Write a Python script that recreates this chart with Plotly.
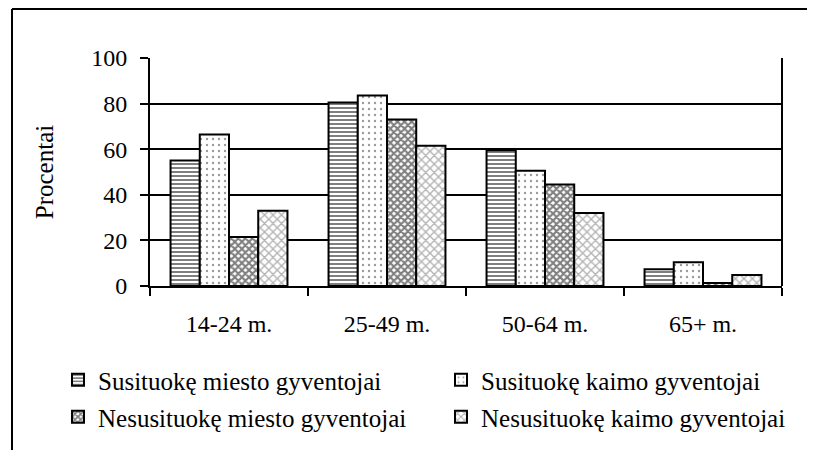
import plotly.graph_objects as go

categories = ["14-24 m.", "25-49 m.", "50-64 m.", "65+ m."]
series_names = [
    "Susituokę miesto gyventojai",
    "Susituokę kaimo gyventojai",
    "Nesusituokę miesto gyventojai",
    "Nesusituokę kaimo gyventojai",
]
married_urban = [55, 80.5, 59.5, 7.3]
married_rural = [66.5, 83.5, 50.5, 10.4]
unmarried_urban = [21.5, 73, 44.5, 1.3]
unmarried_rural = [33, 61.5, 32, 4.8]
y_ticks = [0, 20, 40, 60, 80, 100]

values = [married_urban, married_rural, unmarried_urban, unmarried_rural]
patterns = [
    dict(shape="-", fgcolor="black", bgcolor="white", size=4, solidity=0.5, fillmode="overlay"),
    dict(shape=".", fgcolor="#333333", bgcolor="white", size=6, solidity=0.12, fillmode="overlay"),
    dict(shape="x", fgcolor="black", bgcolor="white", size=5, solidity=0.65, fillmode="overlay"),
    dict(shape="x", fgcolor="#666666", bgcolor="white", size=6, solidity=0.4, fillmode="overlay"),
]
legends = ["legend", "legend2", "legend3", "legend4"]

FONT = "Times New Roman"

fig = go.Figure()
for name, vals, pat, lg in zip(series_names, values, patterns, legends):
    fig.add_trace(go.Bar(
        x=categories, y=vals, name=name,
        marker=dict(color="white", line=dict(color="black", width=2), pattern=pat),
        legend=lg,
    ))

OFF = 8  # page body offset
W, H = 815 - OFF, 450 - OFF
L, T = 150 - OFF, 58 - OFF
R = W - (782 - OFF)
B = H - (286 - OFF)
pw, ph = W - L - R, H - T - B

def px_x(p):
    return (p - OFF - L) / pw

def px_y(p):
    return (H - B - (p - OFF)) / ph

def leg(xp, yp):
    return dict(orientation="v", x=px_x(xp), y=px_y(yp), xanchor="left", yanchor="top",
                font=dict(family=FONT, size=25), bgcolor="rgba(0,0,0,0)",
                itemwidth=30)

fig.update_layout(
    width=W, height=H,
    margin=dict(l=L, r=R, t=T, b=B, autoexpand=False),
    paper_bgcolor="white", plot_bgcolor="white",
    font=dict(family=FONT, size=24, color="black"),
    barmode="group", bargap=0.26, bargroupgap=0,
    showlegend=True,
    legend=leg(58, 357),
    legend2=leg(441, 357),
    legend3=leg(58, 394),
    legend4=leg(441, 394),
    xaxis=dict(
        type="category", tickson="boundaries", ticks="outside", ticklen=8, tickwidth=2,
        tickcolor="black", showline=True, linecolor="black", linewidth=2, mirror=False,
        showgrid=False, tickfont=dict(family=FONT, size=24), zeroline=False,
        ticklabelstandoff=15, automargin=False,
    ),
    yaxis=dict(
        range=[0, 100], tickvals=y_ticks, ticks="outside", ticklen=8, tickwidth=2,
        tickcolor="black", showline=True, linecolor="black", linewidth=2,
        showgrid=True, gridcolor="black", gridwidth=2, zeroline=False,
        tickfont=dict(family=FONT, size=24), ticklabelstandoff=8, automargin=False,
        title=dict(text="Procentai", font=dict(family=FONT, size=25), standoff=30),
    ),
    shapes=[
        dict(type="line", xref="paper", yref="paper", x0=1, x1=1, y0=0, y1=1,
             line=dict(color="black", width=2)),
        dict(type="line", xref="paper", yref="paper", x0=px_x(12), x1=px_x(815), y0=px_y(9), y1=px_y(9),
             line=dict(color="black", width=2)),
        dict(type="line", xref="paper", yref="paper", x0=px_x(12), x1=px_x(12), y0=px_y(9), y1=px_y(452),
             line=dict(color="black", width=2)),
    ],
)

fig.write_html("out.html")
